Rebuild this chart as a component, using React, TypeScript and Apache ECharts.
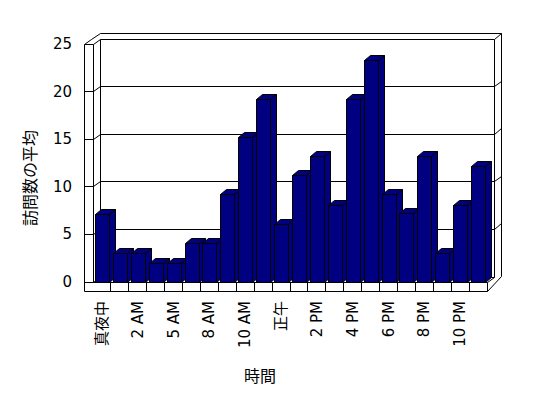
import React, { useEffect, useRef } from "react";
import * as echarts from "echarts";

const categories = ["真夜中", "1 AM", "2 AM", "3 AM", "5 AM", "6 AM", "8 AM", "9 AM", "10 AM", "11 AM", "正午", "1 PM", "2 PM", "3 PM", "4 PM", "5 PM", "6 PM", "7 PM", "8 PM", "9 PM", "10 PM", "11 PM"];
const visits = [7.1, 3, 3, 2, 2, 4.1, 4.1, 9.2, 15.2, 19.2, 6.1, 11.2, 13.2, 8.1, 19.2, 23.3, 9.2, 7.2, 13.2, 3, 8.1, 12.2];
const yMin = 0;
const yMax = 25;
const yStep = 5;
const gridValues = [0, 5, 10, 15, 20, 25];
const yTitle = "訪問数の平均";
const xTitle = "時間";

const FONT = '"DejaVu Sans", "Noto Sans CJK JP", sans-serif';
const CJK = '"Noto Sans CJK JP", sans-serif';
const BAR = "#000080";
const LINE = { stroke: "#000", lineWidth: 1 };
const DX = 7, DY = -5; // inner depth
const WX = 7.5, WY = -5.5; // wall thickness depth
const SLAB = 9; // left slab and floor slab thickness
const BDX = 6, BDY = -5; // bar depth

const c = (v: number) => Math.round(v - 0.5) + 0.5;

function ln(x1: number, y1: number, x2: number, y2: number) {
  return { type: "line", shape: { x1: c(x1), y1: c(y1), x2: c(x2), y2: c(y2) }, style: LINE, silent: true };
}

export default function App() {
  const ref = useRef<HTMLDivElement>(null);
  useEffect(() => {
    if (!ref.current) return;
    const chart = echarts.init(ref.current, undefined, { renderer: "svg" });
    const N = categories.length;
    const option: any = {
      animation: false,
      backgroundColor: "#fff",
      grid: { left: 93, right: 61, top: 44, bottom: 116 },
      xAxis: {
        type: "category",
        data: categories,
        axisLine: { show: false },
        axisTick: { show: false },
        splitLine: { show: false },
        axisLabel: { interval: 1, rotate: 90, margin: 19, color: "#000", fontSize: 15, fontFamily: FONT },
      },
      yAxis: {
        type: "value",
        min: yMin,
        max: yMax,
        interval: yStep,
        axisLine: { show: false },
        axisTick: { show: false },
        splitLine: { show: false },
        axisLabel: { margin: 21, color: "#000", fontSize: 15, fontFamily: FONT },
      },
      graphic: [
        { type: "text", x: 29, y: 178, rotation: Math.PI / 2, style: { text: yTitle, font: `16px ${CJK}`, fill: "#000", textAlign: "center", textVerticalAlign: "middle" } },
        { type: "text", x: 260, y: 375, style: { text: xTitle, font: `16px ${CJK}`, fill: "#000", textAlign: "center", textVerticalAlign: "middle" } },
      ],
      series: [
        {
          type: "custom",
          z: 1,
          data: [[0, 0]],
          renderItem: (params: any, api: any) => {
            const bw = api.size([1, 0])[0];
            const xL = api.coord([0, 0])[0] - bw / 2;
            const xR = api.coord([N - 1, 0])[0] + bw / 2;
            const y0 = api.coord([0, yMin])[1];
            const yT = api.coord([0, yMax])[1];
            const children: any[] = [];
            children.push(ln(xL + DX, yT + DY, xL + DX, y0 + DY));
            children.push(ln(xR + DX, yT + DY, xR + DX, y0 + DY));
            gridValues.forEach((v) => {
              const y = api.coord([0, v])[1];
              children.push(ln(xL + DX, y + DY, xR + DX, y + DY));
              children.push(ln(xL - SLAB, y, xL, y));
              children.push(ln(xL, y, xL + DX, y + DY));
              if (v !== yMin) children.push(ln(xR + DX, y + DY, xR + DX + WX, y + DY + WY));
            });
            children.push(ln(xL - SLAB, yT, xL - SLAB, y0 + SLAB));
            children.push(ln(xL, yT, xL, y0));
            children.push({
              type: "polyline",
              shape: { points: [[c(xL - SLAB), c(yT)], [c(xL - SLAB + DX), c(yT + DY)], [c(xL + DX), c(yT + DY + WY)]] },
              style: { ...LINE, fill: null },
              silent: true,
            });
            children.push(ln(xL + DX, yT + DY + WY, xR + DX + WX, yT + DY + WY));
            children.push(ln(xR + DX + WX, yT + DY + WY, xR + DX + WX, y0 + DY + WY + SLAB / 2));
            children.push(ln(xL, y0, xR, y0));
            children.push(ln(xL - SLAB, y0 + SLAB, xR, y0 + SLAB));
            children.push(ln(xR, y0, xR, y0 + SLAB));
            children.push(ln(xR, y0, xR + DX, y0 + DY));
            children.push(ln(xR, y0 + SLAB, xR + DX + WX, y0 + DY + WY + SLAB / 2 + 0.5));
            for (let k = 1; k < N; k++) {
              const x = xL + k * bw;
              children.push(ln(x, y0, x, y0 + SLAB));
            }
            return { type: "group", children };
          },
        },
        {
          type: "custom",
          z: 2,
          data: visits.map((v, i) => [i, v]),
          encode: { x: 0, y: 1 },
          renderItem: (params: any, api: any) => {
            const idx = api.value(0);
            const v = api.value(1);
            const top = api.coord([idx, v]);
            const bot = api.coord([idx, 0]);
            const bw = api.size([1, 0])[0];
            const w = Math.round(bw * 0.8);
            const x0 = Math.round(top[0] - w / 2) + 0.5;
            const yt = Math.round(top[1]) + 0.5;
            const yb = Math.round(bot[1]) + 0.5;
            const style = { fill: BAR, stroke: "#000", lineWidth: 1 };
            return {
              type: "group",
              children: [
                { type: "polygon", shape: { points: [[x0 + w, yt], [x0 + w + BDX, yt + BDY], [x0 + w + BDX, yb + BDY], [x0 + w, yb]] }, style },
                { type: "polygon", shape: { points: [[x0, yt], [x0 + BDX, yt + BDY], [x0 + w + BDX, yt + BDY], [x0 + w, yt]] }, style },
                { type: "rect", shape: { x: x0, y: yt, width: w, height: yb - yt }, style },
              ],
            };
          },
        },
      ],
    };
    chart.setOption(option);
    return () => chart.dispose();
  }, []);
  return <div ref={ref} style={{ position: "fixed", left: 0, top: 0, width: 548, height: 398, background: "#fff" }} />;
}
